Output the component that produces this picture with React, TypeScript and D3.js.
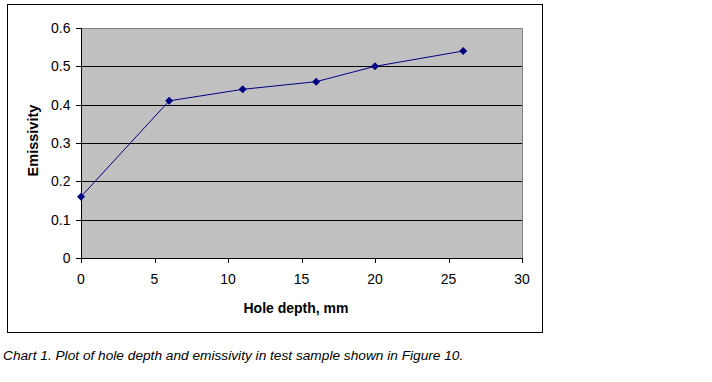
import React from "react";
import * as d3 from "d3";

const depths = [0, 6, 11, 16, 20, 26];
const emissivity = [0.16, 0.41, 0.44, 0.46, 0.5, 0.54];
const xTicks = [0, 5, 10, 15, 20, 25, 30];
const yTicks = [0, 0.1, 0.2, 0.3, 0.4, 0.5, 0.6];

export default function App() {
  const W = 712, H = 382;
  const left = 81, right = 522, top = 28, bottom = 258;
  const x = d3.scaleLinear().domain([0, 30]).range([left, right]);
  const y = d3.scaleLinear().domain([0, 0.6]).range([bottom, top]);
  const pts = depths.map((d, i) => [x(d), y(emissivity[i])] as [number, number]);
  const line = d3.line()(pts) || "";
  const font = "'Liberation Sans', Arial, sans-serif";
  return (
    <svg width={W} height={H} style={{ position: "absolute", left: 0, top: 0 }} fontFamily={font}>
      <rect x={0} y={0} width={W} height={H} fill="#fff" />
      <rect x={7.5} y={4.5} width={535} height={328} fill="#fff" stroke="#000" strokeWidth={1} />
      <rect x={left} y={top} width={right - left} height={bottom - top} fill="#c0c0c0" />
      <path d={`M${left},${top + 0.5}H${right + 0.5}V${bottom}`} fill="none" stroke="#808080" />
      {yTicks.slice(1, -1).map((t) => (
        <line key={t} x1={left} x2={right} y1={Math.round(y(t)) + 0.5} y2={Math.round(y(t)) + 0.5} stroke="#000" />
      ))}
      <line x1={left + 0.5} x2={left + 0.5} y1={top} y2={bottom + 1} stroke="#000" />
      <line x1={left} x2={right + 1} y1={bottom + 0.5} y2={bottom + 0.5} stroke="#000" />
      {yTicks.map((t) => (
        <g key={t}>
          <line x1={left - 5} x2={left} y1={Math.round(y(t)) + 0.5} y2={Math.round(y(t)) + 0.5} stroke="#000" />
          <text x={70.5} y={y(t)} dy="0.36em" textAnchor="end" fontSize={14} fill="#000">
            {t === 0 ? "0" : t.toFixed(1)}
          </text>
        </g>
      ))}
      {xTicks.map((t) => (
        <g key={t}>
          <line x1={Math.round(x(t)) + 0.5} x2={Math.round(x(t)) + 0.5} y1={bottom} y2={bottom + 5} stroke="#000" />
          <text x={x(t)} y={279} dy="0.36em" textAnchor="middle" fontSize={14} fill="#000">
            {t}
          </text>
        </g>
      ))}
      <path d={line} fill="none" stroke="#000080" strokeWidth={1} />
      {pts.map(([px, py], i) => (
        <path key={i} d={`M${px},${py - 4}L${px + 4},${py}L${px},${py + 4}L${px - 4},${py}Z`} fill="#000080" />
      ))}
      <text x={33} y={140.5} transform="rotate(-90 33 140.5)" textAnchor="middle" dy="0.36em" fontSize={14.5} fontWeight="bold" fill="#000">
        Emissivity
      </text>
      <text x={296} y={307.5} textAnchor="middle" dy="0.36em" fontSize={14} fontWeight="bold" fill="#000">
        Hole depth, mm
      </text>
      <text x={3} y={355} dy="0.36em" fontSize={13.7} fontStyle="italic" fill="#000">
        Chart 1. Plot of hole depth and emissivity in test sample shown in Figure 10.
      </text>
    </svg>
  );
}
